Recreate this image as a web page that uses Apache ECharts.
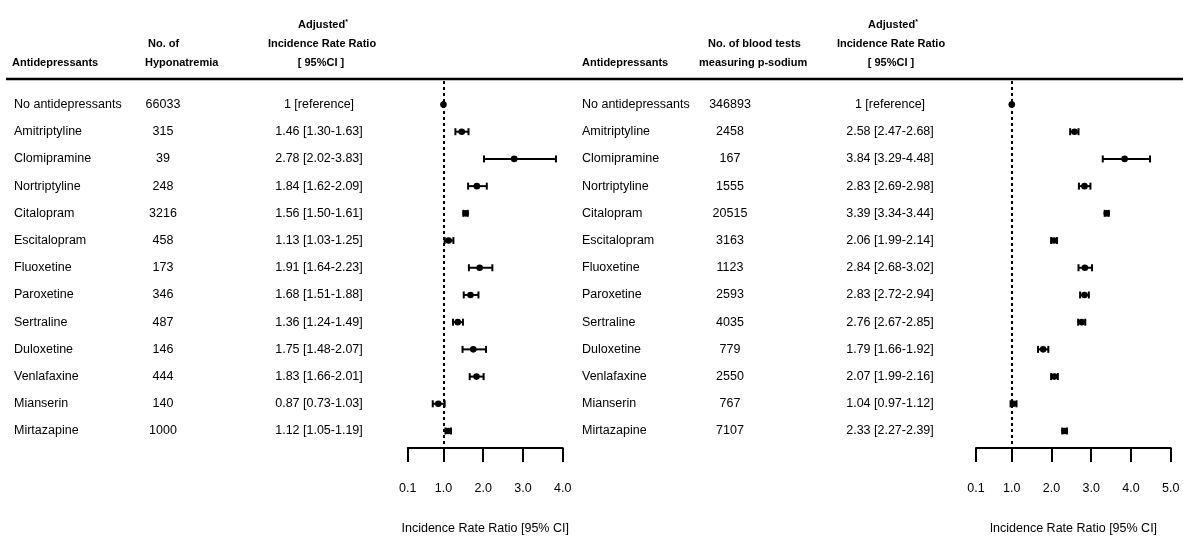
<!DOCTYPE html>
<html><head><meta charset="utf-8">
<script src="https://cdn.jsdelivr.net/npm/echarts@6/dist/echarts.min.js"></script>
<style>html,body{margin:0;padding:0;background:#fff}#c{width:1183px;height:536px}</style>
</head><body><div id="c"></div>
<script>
// ---------- data ----------
const drugs = ['No antidepressants','Amitriptyline','Clomipramine','Nortriptyline','Citalopram','Escitalopram','Fluoxetine','Paroxetine','Sertraline','Duloxetine','Venlafaxine','Mianserin','Mirtazapine'];

const hypoCounts = [66033,315,39,248,3216,458,173,346,487,146,444,140,1000];
const hypoIRR  = [1,1.46,2.78,1.84,1.56,1.13,1.91,1.68,1.36,1.75,1.83,0.87,1.12];
const hypoLow  = [1,1.30,2.02,1.62,1.50,1.03,1.64,1.51,1.24,1.48,1.66,0.73,1.05];
const hypoHigh = [1,1.63,3.83,2.09,1.61,1.25,2.23,1.88,1.49,2.07,2.01,1.03,1.19];

const testCounts = [346893,2458,167,1555,20515,3163,1123,2593,4035,779,2550,767,7107];
const testIRR  = [1,2.58,3.84,2.83,3.39,2.06,2.84,2.83,2.76,1.79,2.07,1.04,2.33];
const testLow  = [1,2.47,3.29,2.69,3.34,1.99,2.68,2.72,2.67,1.66,1.99,0.97,2.27];
const testHigh = [1,2.68,4.48,2.98,3.44,2.14,3.02,2.94,2.85,1.92,2.16,1.12,2.39];

const hypoTicks = [0.1,1,2,3,4];
const testTicks = [0.1,1,2,3,4,5];
const axisTitle = 'Incidence Rate Ratio [95% CI]';

// ---------- helpers ----------
const FONT = '"Liberation Sans Narrow", "Arial Narrow", "Liberation Sans", Arial, sans-serif';
const FS = 12.5;
function irrLabels(irr, lo, hi){
  return irr.map((v,i)=> i===0 ? '1 [reference]' : v.toFixed(2)+' ['+lo[i].toFixed(2)+'-'+hi[i].toFixed(2)+']');
}
function ciSeries(g, irr, lo, hi){
  return {
    type:'custom', xAxisIndex:g, yAxisIndex:g,
    data: irr.map((v,i)=>[i, lo[i], hi[i], v]),
    encode:{x:[1,2,3], y:0},
    renderItem:function(params, api){
      const i = api.value(0);
      const pL = api.coord([api.value(1), i]);
      const pH = api.coord([api.value(2), i]);
      const pE = api.coord([api.value(3), i]);
      const c = 3.5;
      const st = {stroke:'#000', lineWidth:2};
      return {type:'group', children:[
        {type:'line', shape:{x1:pL[0],y1:pL[1],x2:pH[0],y2:pH[1]}, style:st},
        {type:'line', shape:{x1:pL[0],y1:pL[1]-c,x2:pL[0],y2:pL[1]+c}, style:st},
        {type:'line', shape:{x1:pH[0],y1:pH[1]-c,x2:pH[0],y2:pH[1]+c}, style:st},
        {type:'circle', shape:{cx:pE[0],cy:pE[1],r:3.3}, style:{fill:'#000'}}
      ]};
    },
    markLine:{
      silent:true, symbol:'none', label:{show:false},
      lineStyle:{color:'#000', type:[3,3], width:2},
      data:[{xAxis:1}]
    },
    z:3
  };
}
function textSeries(g, texts, px, align){
  return {
    type:'custom', xAxisIndex:g, yAxisIndex:g, clip:false, silent:true,
    data: texts.map((t,i)=>[1,i]),
    encode:{x:0, y:1},
    renderItem:function(params, api){
      const p = api.coord([1, api.value(1)]);
      return {type:'text', x:px, y:p[1], style:{
        text:String(texts[params.dataIndex]), fill:'#000',
        font:FS+'px '+FONT, align:align, verticalAlign:'middle'}};
    }
  };
}
function xAx(g, ticks){
  return {
    type:'value', gridIndex:g, position:'bottom', min:ticks[0], max:ticks[ticks.length-1],
    name:axisTitle, nameLocation:'middle', nameGap:74,
    nameTextStyle:{color:'#000', fontFamily:FONT, fontSize:FS},
    splitLine:{show:false},
    axisLine:{show:true, onZero:false, lineStyle:{color:'#000', width:2}},
    axisTick:{show:true, length:14, customValues:ticks, lineStyle:{color:'#000', width:2}},
    axisLabel:{customValues:ticks, margin:34, color:'#000', fontFamily:FONT, fontSize:FS,
      formatter:v=>Number(v).toFixed(1)}
  };
}
function yAx(g){
  return {type:'value', gridIndex:g, inverse:true, min:-0.864, max:12.625, show:false};
}
function hdr(x, y, text, align){
  return {type:'text', x:x, y:y, style:{text:text, fill:'#000', font:'bold 11px '+FONT, align:align, verticalAlign:'middle'}};
}
function adjHdr(x, y){
  return {type:'text', x:x, y:y, style:{
    text:'{a|Adjusted}{s|*}', align:'center', verticalAlign:'middle',
    rich:{a:{font:'bold 11px '+FONT, fill:'#000'}, s:{font:'bold 7px '+FONT, fill:'#000', verticalAlign:'top', padding:[0,0,6,0]}}
  }};
}

const option = {
  backgroundColor:'#fff',
  animation:false,
  grid:[
    {left:407.7, width:155, top:81, height:367, outerBoundsMode:'none', containLabel:false},
    {left:976, width:194.7, top:81, height:367, outerBoundsMode:'none', containLabel:false}
  ],
  xAxis:[xAx(0, hypoTicks), xAx(1, testTicks)],
  yAxis:[yAx(0), yAx(1)],
  series:[
    ciSeries(0, hypoIRR, hypoLow, hypoHigh),
    ciSeries(1, testIRR, testLow, testHigh),
    textSeries(0, drugs, 14, 'left'),
    textSeries(0, hypoCounts, 163, 'center'),
    textSeries(0, irrLabels(hypoIRR, hypoLow, hypoHigh), 319, 'center'),
    textSeries(1, drugs, 582, 'left'),
    textSeries(1, testCounts, 730, 'center'),
    textSeries(1, irrLabels(testIRR, testLow, testHigh), 890, 'center')
  ],
  graphic:[
    {type:'line', shape:{x1:6, y1:79, x2:1183, y2:79}, style:{stroke:'#000', lineWidth:2.5}},
    hdr(12, 63, 'Antidepressants', 'left'),
    hdr(148, 44, 'No. of', 'left'),
    hdr(145, 63, 'Hyponatremia', 'left'),
    adjHdr(323, 25),
    hdr(322, 44, 'Incidence Rate Ratio', 'center'),
    hdr(321, 63, '[ 95%CI ]', 'center'),
    hdr(582, 63, 'Antidepressants', 'left'),
    hdr(708, 44, 'No. of blood tests', 'left'),
    hdr(699, 63, 'measuring p-sodium', 'left'),
    adjHdr(893, 25),
    hdr(891, 44, 'Incidence Rate Ratio', 'center'),
    hdr(891, 63, '[ 95%CI ]', 'center')
  ]
};
const chart = echarts.init(document.getElementById('c'), null, {renderer:'canvas'});
chart.setOption(option);
</script>
</body></html>
